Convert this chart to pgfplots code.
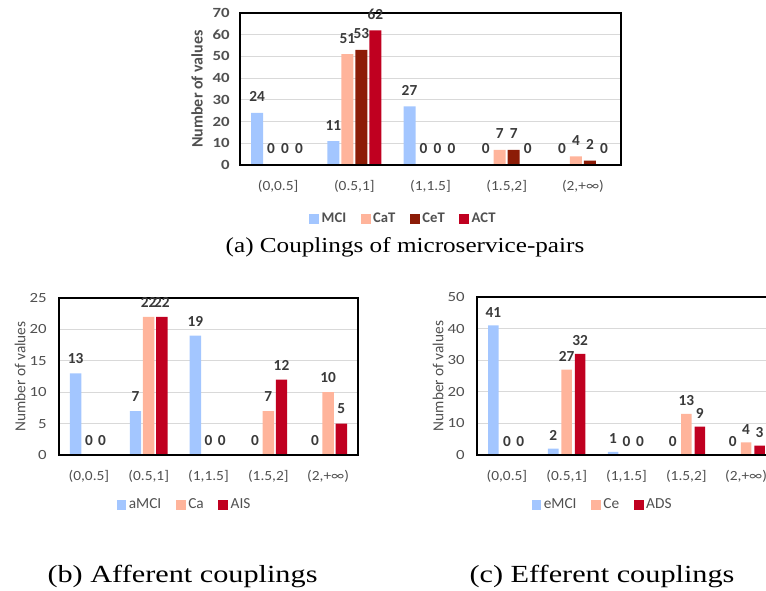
\documentclass[border=0pt]{standalone}
\usepackage{pgfplots}
\pgfplotsset{compat=1.18}
\usepackage{fontspec}
\setmainfont{Carlito}
\newfontfamily\capfont{Liberation Serif}
\definecolor{cblue}{HTML}{A3C6FF}
\definecolor{csalmon}{HTML}{FFB49B}
\definecolor{cdark}{HTML}{8C1C07}
\definecolor{ccrim}{HTML}{C00020}
\definecolor{tickgray}{HTML}{505050}
\definecolor{labgray}{HTML}{3A3A3A}
\pgfplotsset{
  sq/.style={draw=none, legend image code/.code={\fill[##1] (0pt,-3.6pt) rectangle (7.2pt,3.6pt);}},
  mybar/.style={
    scale only axis, ybar,
    xmin=-0.5, xmax=4.5, ymin=0,
    xtick={0,1,2,3,4},
    xticklabels={{(0,0.5]},{(0.5,1]},{(1,1.5]},{(1.5,2]},{(2,+∞)}},
    ymajorgrids, grid style={draw=black!15, line width=0.8pt},
    major tick length=0pt,
    axis line style={black, line width=0.9pt},
    /pgf/number format/assume math mode=true,
    tick label style={text=tickgray, inner sep=0pt},
    yticklabel style={xscale=1.2},
    xticklabel style={font=\fontsize{10.5}{12}\selectfont, xscale=1.1},
    nodes near coords,
    every node near coord/.append style={font=\bfseries\fontsize{11.5}{13}\selectfont, text=labgray, inner sep=0pt, anchor=south},
    ylabel={Number of values},
    ylabel style={anchor=center, text=tickgray},
    legend style={draw=none, fill=none, legend columns=-1, anchor=center, text=tickgray,
      font=\fontsize{11.5}{13}\selectfont,
      /tikz/every even column/.append style={column sep=9pt}},
    legend cell align=left,
    clip=false,
  }
}
\begin{document}
\begin{tikzpicture}
\path[use as bounding box] (0pt,0pt) rectangle (574.5pt,443.25pt);
% (a)
\begin{axis}[mybar, at={(180pt,319.5pt)}, anchor=south west,
  width=285.75pt, height=114pt, ymax=70, ytick={0,10,...,70},
  bar width=9pt, ybar=1.5pt,
  yticklabel style={font=\bfseries\fontsize{10.5}{12}\selectfont},
  yticklabel shift=7.5pt, xticklabel shift=11.5pt,
  every node near coord/.append style={yshift=8pt},
  ylabel style={at={(axis description cs:-0.113,0.5)}, font=\bfseries\fontsize{12}{14}\selectfont},
  legend style={at={(0.43,-0.355)}, font=\bfseries\fontsize{11}{13}\selectfont}]
\addplot[sq, fill=cblue] coordinates {(0,24) (1,11) (2,27) (3,0) (4,0)};
\addplot[sq, fill=csalmon] coordinates {(0,0) (1,51) (2,0) (3,7) (4,4)};
\addplot[sq, fill=cdark] coordinates {(0,0) (1,53) (2,0) (3,7) (4,2)};
\addplot[sq, fill=ccrim] coordinates {(0,0) (1,62) (2,0) (3,0) (4,0)};
\legend{MCI,CaT,CeT,ACT}
\draw[black, line width=1.6pt] (rel axis cs:0,0) -- (rel axis cs:1,0);
\end{axis}
% (b)
\begin{axis}[mybar, at={(44.25pt,102pt)}, anchor=south west,
  width=224.25pt, height=117.75pt, ymax=25, ytick={0,5,...,25},
  bar width=8.6pt, ybar=1.3pt,
  yticklabel style={font=\fontsize{10.5}{12}\selectfont},
  yticklabel shift=9pt, xticklabel shift=11pt,
  every node near coord/.append style={yshift=7pt},
  ylabel style={at={(axis description cs:-0.130,0.5)}, font=\fontsize{11.5}{14}\selectfont},
  legend style={at={(0.421,-0.318)}}]
\addplot[sq, fill=cblue] coordinates {(0,13) (1,7) (2,19) (3,0) (4,0)};
\addplot[sq, fill=csalmon] coordinates {(0,0) (1,22) (2,0) (3,7) (4,10)};
\addplot[sq, fill=ccrim] coordinates {(0,0) (1,22) (2,0) (3,12) (4,5)};
\legend{aMCI,Ca,AIS}
\draw[black, line width=1.6pt] (rel axis cs:0,0) -- (rel axis cs:1,0);
\end{axis}
% (c)
\begin{axis}[mybar, at={(357.75pt,102pt)}, anchor=south west,
  width=224.25pt, height=118.5pt, ymax=50, ytick={0,10,...,50},
  bar width=7.9pt, ybar=2.2pt,
  yticklabel style={font=\fontsize{10.5}{12}\selectfont},
  yticklabel shift=9pt, xticklabel shift=11pt,
  every node near coord/.append style={yshift=6pt},
  ylabel style={at={(axis description cs:-0.130,0.5)}, font=\fontsize{11.5}{14}\selectfont},
  legend style={at={(0.421,-0.316)}}]
\addplot[sq, fill=cblue] coordinates {(0,41) (1,2) (2,1) (3,0) (4,0)};
\addplot[sq, fill=csalmon] coordinates {(0,0) (1,27) (2,0) (3,13) (4,4)};
\addplot[sq, fill=ccrim] coordinates {(0,0) (1,32) (2,0) (3,9) (4,3)};
\legend{eMCI,Ce,ADS}
\draw[black, line width=1.6pt] (rel axis cs:0,0) -- (rel axis cs:1,0);
\end{axis}
% captions
\node[anchor=base, xscale=1.18, font=\capfont\fontsize{16}{18}\selectfont, inner sep=0pt] at (303.75pt,253.95pt) {(a) Couplings of microservice-pairs};
\node[anchor=base, xscale=1.23, font=\capfont\fontsize{18.45}{20}\selectfont, inner sep=0pt] at (136.9pt,6.2pt) {(b) Afferent couplings};
\node[anchor=base, xscale=1.23, font=\capfont\fontsize{18.45}{20}\selectfont, inner sep=0pt] at (451.5pt,6.2pt) {(c) Efferent couplings};
\end{tikzpicture}
\end{document}
